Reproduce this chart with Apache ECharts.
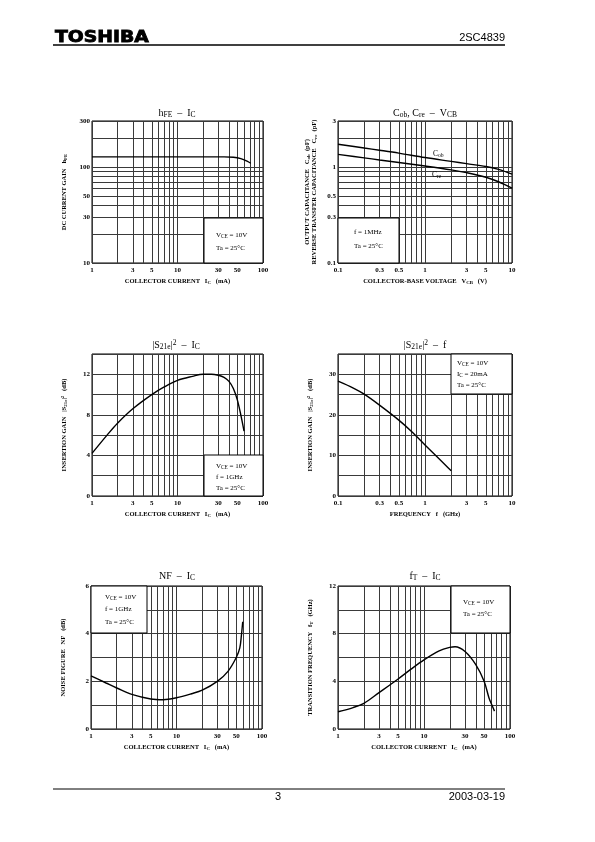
<!DOCTYPE html>
<html>
<head>
<meta charset="utf-8">
<script src="https://cdn.jsdelivr.net/npm/echarts@6/dist/echarts.min.js"></script>
<style>html,body{margin:0;padding:0;background:#fff}#c{width:595px;height:842px}</style>
</head>
<body>
<div id="c"></div>
<script>
// ---------- DATA ----------
// hFE - IC
const hfe_ic  = [1, 2, 5, 10, 20, 35, 45, 55, 65, 72];
const hfe_val = [127, 127, 127, 127, 127, 127, 126, 122, 115, 109];
// Cob, Cre - VCB
const vcb     = [0.1, 0.2, 0.3, 0.5, 1, 2, 3, 5, 7, 10];
const cob_val = [1.72, 1.57, 1.49, 1.39, 1.25, 1.14, 1.08, 1.01, 0.94, 0.84];
const cre_val = [1.35, 1.24, 1.18, 1.11, 1.02, 0.93, 0.87, 0.78, 0.70, 0.60];
// |S21e|^2 - IC
const s21_ic  = [1, 1.5, 2, 3, 5, 7, 10, 15, 20, 25, 30, 35, 40, 45, 50, 55, 60];
const s21_icv = [4.2, 6.0, 7.2, 8.6, 10.0, 10.75, 11.4, 11.8, 12.0, 12.0, 11.9, 11.7, 11.3, 10.6, 9.5, 8.0, 6.4];
// |S21e|^2 - f
const freq    = [0.1, 0.15, 0.2, 0.3, 0.5, 0.7, 1, 1.5, 2];
const s21_fv  = [28.3, 26.6, 25.1, 22.4, 18.7, 15.9, 12.6, 8.9, 6.2];
// NF - IC
const nf_ic   = [1, 1.5, 2, 3, 5, 7, 10, 15, 20, 30, 40, 50, 55, 57.5, 59.5];
const nf_val  = [2.23, 1.93, 1.72, 1.45, 1.26, 1.23, 1.31, 1.48, 1.63, 2.0, 2.42, 3.0, 3.4, 3.95, 4.5];
// fT - IC
const ft_ic   = [1, 1.5, 2, 3, 5, 7, 10, 15, 20, 23, 30, 40, 50, 57, 60, 66];
const ft_val  = [1.45, 1.8, 2.15, 3.05, 4.2, 5.0, 5.8, 6.55, 6.85, 6.9, 6.5, 5.4, 4.0, 2.6, 2.2, 1.5];

// tick labels
const icTicks   = [1, 3, 5, 10, 30, 50, 100];
const decTicks  = [0.1, 0.3, 0.5, 1, 3, 5, 10];
const hfeTicks  = [10, 30, 50, 100, 300];
const capTicks  = [0.1, 0.3, 0.5, 1, 3];
const s21iTicks = [0, 4, 8, 12];
const s21fTicks = [0, 10, 20, 30];
const nfTicks   = [0, 2, 4, 6];
const ftTicks   = [0, 4, 8, 12];

// ---------- HELPERS ----------
const SERIF = '"Liberation Serif","DejaVu Serif",serif';
const SANS = '"Liberation Sans",Arial,sans-serif';
const zip = (xs, ys) => xs.map((x, i) => [x, ys[i]]);
const fmt = v => String(+(+v).toPrecision(3));
function logGrid(min, max) {
  const out = [];
  for (let d = Math.floor(Math.log10(min)); d <= Math.ceil(Math.log10(max)); d++) {
    for (let k = 1; k <= 9; k++) {
      const v = +(k * Math.pow(10, d)).toPrecision(3);
      if (v >= min * 0.999 && v <= max * 1.001) out.push(v);
    }
  }
  return out;
}
function rich(fs, w) {
  return {
    s: { fontSize: fs * 0.75, fontFamily: SERIF, fontWeight: w || 'normal', color: '#000', padding: [fs * 0.5, 0, 0, 0] },
    p: { fontSize: fs * 0.75, fontFamily: SERIF, fontWeight: w || 'normal', color: '#000', padding: [0, 0, fs * 0.45, 0] }
  };
}
const gridLine = { show: true, lineStyle: { color: '#3a3a3a', width: 1 } };
const tickFont = { fontSize: 7, fontFamily: SERIF, fontWeight: 'bold', color: '#000' };
const nameFont = { fontSize: 6.5, fontFamily: SERIF, fontWeight: 'bold', color: '#000', rich: rich(6.5, 'bold') };

function logAxis(gi, min, max, labels, name, nameGap, isY) {
  return {
    gridIndex: gi, type: 'log', logBase: 10, min: min, max: max,
    axisLine: { show: false },
    axisTick: { show: false, customValues: logGrid(min, max) },
    axisLabel: Object.assign({ customValues: labels, margin: isY ? 2 : 4, formatter: fmt }, tickFont),
    splitLine: gridLine,
    name: name, nameLocation: 'middle', nameGap: nameGap, nameRotate: isY ? 90 : 0,
    nameTextStyle: Object.assign({ lineHeight: 7 }, nameFont)
  };
}
function valAxis(gi, max, interval, labels, name, nameGap) {
  return {
    gridIndex: gi, type: 'value', min: 0, max: max, interval: interval,
    axisLine: { show: false }, axisTick: { show: false },
    axisLabel: Object.assign({ margin: 2, showMaxLabel: true,
      formatter: v => labels.indexOf(v) >= 0 ? String(v) : '' }, tickFont),
    splitLine: gridLine,
    name: name, nameLocation: 'middle', nameGap: nameGap, nameRotate: 90,
    nameTextStyle: nameFont
  };
}
function curve(xi, data) {
  return {
    type: 'line', xAxisIndex: xi, yAxisIndex: xi, data: data, smooth: 0.35,
    symbol: 'none', lineStyle: { color: '#000', width: 1.4 }, z: 5, silent: true
  };
}
const G = [];
function box(x, y, w, h) {
  G.push({ type: 'rect', z: 50, shape: { x: x, y: y, width: w, height: h },
    style: { fill: '#fff', stroke: '#000', lineWidth: 1 } });
}
function txt(x, y, text, fs, align, font, weight) {
  G.push({ type: 'text', z: 60, x: x, y: y,
    style: { text: text, fontSize: fs, fontFamily: font || SERIF, fontWeight: weight || 'normal', fill: '#000',
      align: align || 'left', verticalAlign: 'middle', rich: rich(fs, weight) } });
}

// ---------- GRIDS ----------
const grids = [
  { left: 92,  top: 121, width: 171, height: 142 },
  { left: 338, top: 121, width: 174, height: 142 },
  { left: 92,  top: 354, width: 171, height: 142 },
  { left: 338, top: 354, width: 174, height: 142 },
  { left: 91,  top: 586, width: 171, height: 143 },
  { left: 338, top: 586, width: 172, height: 143 }
].map(g => Object.assign({ show: true, borderColor: '#000', borderWidth: 1, backgroundColor: '#fff' }, g));

const xAxes = [
  logAxis(0, 1, 100, icTicks, 'COLLECTOR CURRENT   I{s|C}   (mA)', 15, false),
  logAxis(1, 0.1, 10, decTicks, 'COLLECTOR-BASE VOLTAGE   V{s|CB}   (V)', 15, false),
  logAxis(2, 1, 100, icTicks, 'COLLECTOR CURRENT   I{s|C}   (mA)', 15, false),
  logAxis(3, 0.1, 10, decTicks, 'FREQUENCY   f   (GHz)', 15, false),
  logAxis(4, 1, 100, icTicks, 'COLLECTOR CURRENT   I{s|C}   (mA)', 15, false),
  logAxis(5, 1, 100, icTicks, 'COLLECTOR CURRENT   I{s|C}   (mA)', 15, false)
];
const yAxes = [
  logAxis(0, 10, 300, hfeTicks, 'DC CURRENT GAIN   h{s|FE}', 24, true),
  logAxis(1, 0.1, 3, capTicks, 'OUTPUT CAPACITANCE   C{s|ob}  (pF)\nREVERSE TRANSFER CAPACITANCE   C{s|re}  (pF)', 20, true),
  valAxis(2, 14, 2, s21iTicks, 'INSERTION GAIN   |S{s|21e}|{p|2}   (dB)', 24),
  valAxis(3, 35, 5, s21fTicks, 'INSERTION GAIN   |S{s|21e}|{p|2}   (dB)', 24),
  valAxis(4, 6, 1, nfTicks, 'NOISE FIGURE   NF   (dB)', 24),
  valAxis(5, 12, 2, ftTicks, 'TRANSITION FREQUENCY   f{s|T}   (GHz)', 24)
];

const series = [
  curve(0, zip(hfe_ic, hfe_val)),
  curve(1, zip(vcb, cob_val)),
  curve(1, zip(vcb, cre_val)),
  curve(2, zip(s21_ic, s21_icv)),
  curve(3, zip(freq, s21_fv)),
  curve(4, zip(nf_ic, nf_val)),
  curve(5, zip(ft_ic, ft_val))
];

// ---------- ANNOTATIONS ----------
// titles
txt(177, 113, 'h{s|FE}  –  I{s|C}', 10, 'center');
txt(425, 113, 'C{s|ob}, C{s|re}  –  V{s|CB}', 10, 'center');
txt(176, 345, '|S{s|21e}|{p|2}  –  I{s|C}', 10, 'center');
txt(425, 345, '|S{s|21e}|{p|2}  –  f', 10, 'center');
txt(177, 576, 'NF  –  I{s|C}', 10, 'center');
txt(425, 576, 'f{s|T}  –  I{s|C}', 10, 'center');
// condition boxes
box(204, 218, 59, 45);
txt(216, 235, 'V{s|CE} = 10V', 7); txt(216, 248, 'Ta = 25°C', 7);
box(338, 218, 61, 45);
txt(354, 232, 'f = 1MHz', 7); txt(354, 246, 'Ta = 25°C', 7);
box(204, 455, 59, 41);
txt(216, 466, 'V{s|CE} = 10V', 7); txt(216, 477, 'f = 1GHz', 7); txt(216, 488, 'Ta = 25°C', 7);
box(451, 354, 61, 40);
txt(457, 363, 'V{s|CE} = 10V', 7); txt(457, 374, 'I{s|C} = 20mA', 7); txt(457, 385, 'Ta = 25°C', 7);
box(91, 586, 56, 47);
txt(105, 597, 'V{s|CE} = 10V', 7); txt(105, 609, 'f = 1GHz', 7); txt(105, 622, 'Ta = 25°C', 7);
box(451, 586, 59, 47);
txt(463, 602, 'V{s|CE} = 10V', 7); txt(463, 614, 'Ta = 25°C', 7);
// curve labels
txt(433, 154, 'C{s|ob}', 7.5);
txt(432, 175, 'C{s|re}', 7.5);
// header / footer
G.push({ type: 'text', z: 60, x: 55, y: 38, scaleX: 1.25,
  style: { text: 'TOSHIBA', fontSize: 15, fontWeight: 900, fontFamily: '"DejaVu Sans",sans-serif',
    fill: '#000', stroke: '#000', lineWidth: 0.8, align: 'left', verticalAlign: 'middle' } });
txt(505, 38, '2SC4839', 11, 'right', SANS);
G.push({ type: 'line', z: 60, shape: { x1: 53, y1: 45, x2: 505, y2: 45 }, style: { stroke: '#000', lineWidth: 1.5 } });
G.push({ type: 'line', z: 60, shape: { x1: 53, y1: 789, x2: 505, y2: 789 }, style: { stroke: '#000', lineWidth: 1 } });
txt(278, 797, '3', 11, 'center', SANS);
txt(505, 797, '2003-03-19', 11, 'right', SANS);

const chart = echarts.init(document.getElementById('c'), null, { renderer: 'canvas' });
chart.setOption({
  animation: false,
  backgroundColor: '#fff',
  grid: grids,
  xAxis: xAxes,
  yAxis: yAxes,
  series: series,
  graphic: { elements: G }
});
</script>
</body>
</html>
